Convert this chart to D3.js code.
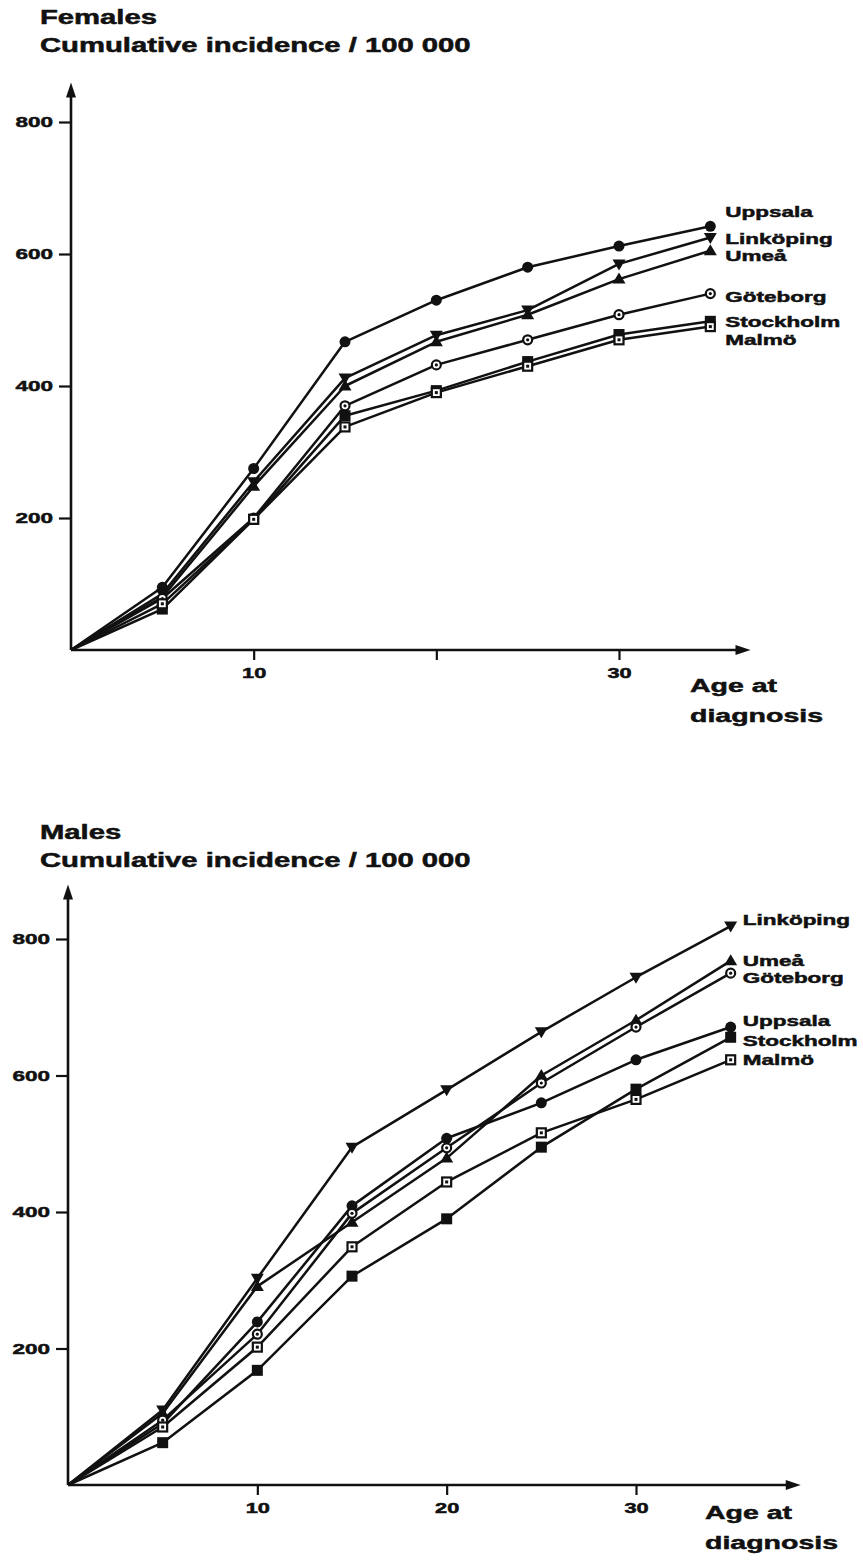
<!DOCTYPE html>
<html>
<head>
<meta charset="utf-8">
<script src="https://cdn.jsdelivr.net/npm/d3@7"></script>
<style>
  body { margin: 0; background: #fff; }
  text { font-family: "Liberation Sans", Arial, sans-serif; font-weight: bold; fill: #111;
         stroke: #111; stroke-width: 0.5px; }
</style>
</head>
<body>
<div id="chart"></div>
<script>
// ages at diagnosis (x values)
const ages = [0, 5, 10, 15, 20, 25, 30, 35];
const cities = ["Uppsala", "Linköping", "Umeå", "Göteborg", "Stockholm", "Malmö"];
const markerKinds = ["dot", "triDown", "triUp", "ringDot", "square", "squareDot"];

// Females, cumulative incidence / 100 000
const femUppsala   = [0, 95, 275, 467, 530, 580, 612, 642];
const femLinkoping = [0, 85, 255, 412, 477, 515, 585, 625];
const femUmea      = [0, 80, 248, 400, 467, 508, 562, 605];
const femGoteborg  = [0, 78, 200, 370, 432, 470, 508, 540];
const femStockholm = [0, 62, 198, 355, 393, 437, 478, 498];
const femMalmo     = [0, 70, 198, 338, 390, 430, 470, 490];
const femLabelAt   = [664, 624, 597, 536, 498, 470];

// Males
const maleUppsala   = [0, 90, 239, 409, 508, 560, 623, 671];
const maleLinkoping = [0, 110, 303, 495, 579, 664, 744, 819];
const maleUmea      = [0, 105, 291, 385, 479, 600, 681, 768];
const maleGoteborg  = [0, 95, 221, 398, 494, 589, 671, 750];
const maleStockholm = [0, 62, 168, 306, 390, 495, 580, 656];
const maleMalmo     = [0, 85, 202, 349, 444, 516, 565, 623];
const maleLabelAt   = [680, 829, 769, 744, 652, 623];

const yTicks = [200, 400, 600, 800];
const femXTicks = [10, 20, 30];
const femXTickLabels = ["10", "", "30"];
const maleXTicks = [10, 20, 30];
const maleXTickLabels = ["10", "20", "30"];

const W = 863, H = 1564;
const sx = 1.5; // the print is stretched sideways

const svg = d3.select("#chart").append("svg")
    .attr("width", W).attr("height", H);

function stretchedText(g, x, y, str, size, anchor) {
    return g.append("text")
        .attr("transform", `translate(${x},${y}) scale(${sx},1)`)
        .attr("font-size", size)
        .attr("text-anchor", anchor || "start")
        .text(str);
}

function drawMarker(g, kind, x, y) {
    const s = 5.5;
    if (kind === "dot") {
        g.append("circle").attr("cx", x).attr("cy", y).attr("r", s).attr("fill", "#111");
    } else if (kind === "triDown") {
        g.append("path").attr("d", `M${x - 6.5},${y - 4.5}L${x + 6.5},${y - 4.5}L${x},${y + 6.5}Z`).attr("fill", "#111");
    } else if (kind === "triUp") {
        g.append("path").attr("d", `M${x - 6.5},${y + 4.5}L${x + 6.5},${y + 4.5}L${x},${y - 6.5}Z`).attr("fill", "#111");
    } else if (kind === "ringDot") {
        g.append("circle").attr("cx", x).attr("cy", y).attr("r", 4.5)
            .attr("fill", "#fff").attr("stroke", "#111").attr("stroke-width", 2.2);
        g.append("circle").attr("cx", x).attr("cy", y).attr("r", 1.6).attr("fill", "#111");
    } else if (kind === "square") {
        g.append("rect").attr("x", x - 5.5).attr("y", y - 5.5).attr("width", 11).attr("height", 11).attr("fill", "#111");
    } else if (kind === "squareDot") {
        g.append("rect").attr("x", x - 4.5).attr("y", y - 4.5).attr("width", 9).attr("height", 9)
            .attr("fill", "#fff").attr("stroke", "#111").attr("stroke-width", 2.2);
        g.append("rect").attr("x", x - 1.5).attr("y", y - 1.5).attr("width", 3).attr("height", 3).attr("fill", "#111");
    }
}

function drawPanel(p) {
    const g = svg.append("g");
    const xScale = d3.scaleLinear().domain([0, 30]).range(p.xRange);
    const yScale = d3.scaleLinear().domain([0, 800]).range(p.yRange);
    const x0 = xScale(0), y0 = yScale(0);
    const xEnd = xScale(p.xMax), yEnd = yScale(p.yMax);

    // titles
    stretchedText(g, 40, p.titleY, p.title, 19.5);
    stretchedText(g, 40, p.titleY + 28, "Cumulative incidence / 100 000", 19.5);

    // y axis ticks
    const yAxis = d3.axisLeft(yScale).tickValues(yTicks).tickSize(12).tickPadding(4);
    const ya = g.append("g").attr("transform", `translate(${x0},0)`).call(yAxis);
    ya.select(".domain").remove();
    ya.selectAll(".tick line").attr("stroke", "#111").attr("stroke-width", 2.2);
    ya.selectAll(".tick text")
        .attr("font-size", 15).attr("font-family", null)
        .attr("transform", `scale(${sx},1)`)
        .attr("x", -12);

    // x axis ticks
    const xAxis = d3.axisBottom(xScale).tickValues(p.xTicks)
        .tickFormat((d, i) => p.xTickLabels[i]).tickSize(10).tickPadding(8);
    const xa = g.append("g").attr("transform", `translate(0,${y0})`).call(xAxis);
    xa.select(".domain").remove();
    xa.selectAll(".tick line").attr("stroke", "#111").attr("stroke-width", 2.2);
    xa.selectAll(".tick text")
        .attr("font-size", 14.5).attr("font-family", null)
        .attr("transform", `scale(${sx},1)`);

    // axis lines with arrow heads
    g.append("line").attr("x1", x0).attr("y1", y0).attr("x2", x0).attr("y2", yEnd + 10)
        .attr("stroke", "#111").attr("stroke-width", 2.6);
    g.append("line").attr("x1", x0).attr("y1", y0).attr("x2", xEnd - 10).attr("y2", y0)
        .attr("stroke", "#111").attr("stroke-width", 2.6);
    g.append("path").attr("d", `M${x0},${yEnd}L${x0 - 5},${yEnd + 15}L${x0 + 5},${yEnd + 15}Z`).attr("fill", "#111");
    g.append("path").attr("d", `M${xEnd},${y0}L${xEnd - 15},${y0 - 5}L${xEnd - 15},${y0 + 5}Z`).attr("fill", "#111");

    // axis title
    stretchedText(g, p.ageX, p.ageY, "Age at", 19);
    stretchedText(g, p.ageX, p.ageY + 30, "diagnosis", 19);

    // series
    const line = d3.line().x((d, i) => xScale(ages[i])).y(d => yScale(d));
    p.series.forEach((vals, k) => {
        g.append("path").attr("d", line(vals))
            .attr("fill", "none").attr("stroke", "#111").attr("stroke-width", 2.5)
            .attr("stroke-linejoin", "round");
    });
    p.series.forEach((vals, k) => {
        vals.forEach((v, i) => {
            if (i === 0) return;
            drawMarker(g, markerKinds[k], xScale(ages[i]), yScale(v));
        });
    });

    // city labels
    cities.forEach((c, k) => {
        stretchedText(g, xScale(ages[ages.length - 1]) + p.labelDx, yScale(p.labelAt[k]) + 5.5, c, 15);
    });
}

drawPanel({
    title: "Females", titleY: 24,
    xRange: [71, 619], yRange: [650, 122], xMax: 37.2, yMax: 860,
    xTicks: femXTicks, xTickLabels: femXTickLabels,
    ageX: 690, ageY: 692,
    labelDx: 15,
    series: [femUppsala, femLinkoping, femUmea, femGoteborg, femStockholm, femMalmo],
    labelAt: femLabelAt
});

drawPanel({
    title: "Males", titleY: 839,
    xRange: [68, 636], yRange: [1485, 939], xMax: 38.7, yMax: 880,
    xTicks: maleXTicks, xTickLabels: maleXTickLabels,
    ageX: 705, ageY: 1519,
    labelDx: 12,
    series: [maleUppsala, maleLinkoping, maleUmea, maleGoteborg, maleStockholm, maleMalmo],
    labelAt: maleLabelAt
});
</script>
</body>
</html>
